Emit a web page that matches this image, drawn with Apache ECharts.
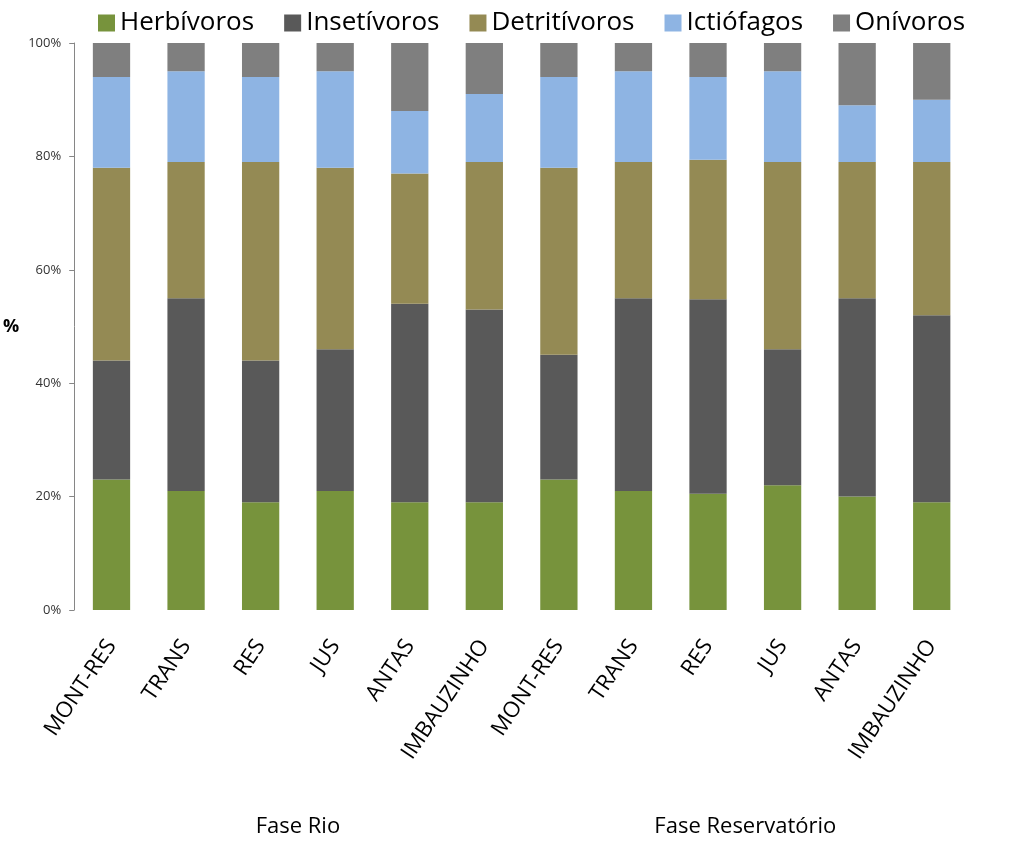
<!DOCTYPE html>
<html>
<head>
<meta charset="utf-8">
<script src="https://cdn.jsdelivr.net/npm/echarts@6/dist/echarts.min.js"></script>
<style>html,body{margin:0;padding:0;background:#fff}#c{width:1024px;height:848px}</style>
</head>
<body>
<div id="c"></div>
<script>
const categories = ['MONT-RES','TRANS','RES','JUS','ANTAS','IMBAUZINHO','MONT-RES','TRANS','RES','JUS','ANTAS','IMBAUZINHO'];
const phases = ['Fase Rio','Fase Reservatório'];
const herbivoros  = [23, 21, 19, 21, 19, 19, 23, 21, 20.5, 22, 20, 19];
const insetivoros = [21, 34, 25, 25, 35, 34, 22, 34, 34.3, 24, 35, 33];
const detritivoros= [34, 24, 35, 32, 23, 26, 33, 24, 24.6, 33, 24, 27];
const ictiofagos  = [16, 16, 15, 17, 11, 12, 16, 16, 14.6, 16, 10, 11];
const onivoros    = [6, 5, 6, 5, 12, 9, 6, 5, 6, 5, 11, 10];
const yTicks = [0, 20, 40, 60, 80, 100];

const font = 'Open Sans';
const mk = (name, data, color) => ({
  name, type: 'bar', stack: 'a', data, barWidth: '50%',
  itemStyle: { color }, emphasis: { disabled: true }
});
const chart = echarts.init(document.getElementById('c'));
chart.setOption({
  animation: false,
  textStyle: { fontFamily: font },
  legend: {
    top: 5, left: 93, itemWidth: 17, itemHeight: 17, itemGap: 30,
    textStyle: { fontSize: 26, color: '#000', fontFamily: font },
    icon: 'rect'
  },
  grid: { left: 71, right: 55, top: 43, bottom: 238, containLabel: false },
  xAxis: [{
    type: 'category', data: categories,
    axisLine: { show: false }, axisTick: { show: false },
    axisLabel: { rotate: 56, fontSize: 22, color: '#000', margin: 32, interval: 0, fontFamily: font }
  }, {
    type: 'category', data: phases, position: 'bottom', offset: 198,
    axisLine: { show: false }, axisTick: { show: false },
    axisLabel: { fontSize: 22, color: '#000', fontFamily: font }
  }],
  yAxis: {
    type: 'value', min: yTicks[0], max: yTicks[yTicks.length - 1], interval: 20,
    name: '%', nameLocation: 'middle', nameGap: 55, nameRotate: 0,
    nameTextStyle: { fontSize: 18, fontWeight: 'bold', color: '#000' },
    axisLine: { show: true, lineStyle: { color: '#868686' } },
    axisTick: { show: true, length: 5, lineStyle: { color: '#868686' } },
    splitLine: { show: false },
    axisLabel: { formatter: '{value}%', fontSize: 13, color: '#333', margin: 13 }
  },
  series: [
    mk('Herbívoros', herbivoros, '#77933C'),
    mk('Insetívoros', insetivoros, '#595959'),
    mk('Detritívoros', detritivoros, '#948A54'),
    mk('Ictiófagos', ictiofagos, '#8EB4E3'),
    mk('Onívoros', onivoros, '#7F7F7F')
  ]
});
</script>
</body>
</html>
